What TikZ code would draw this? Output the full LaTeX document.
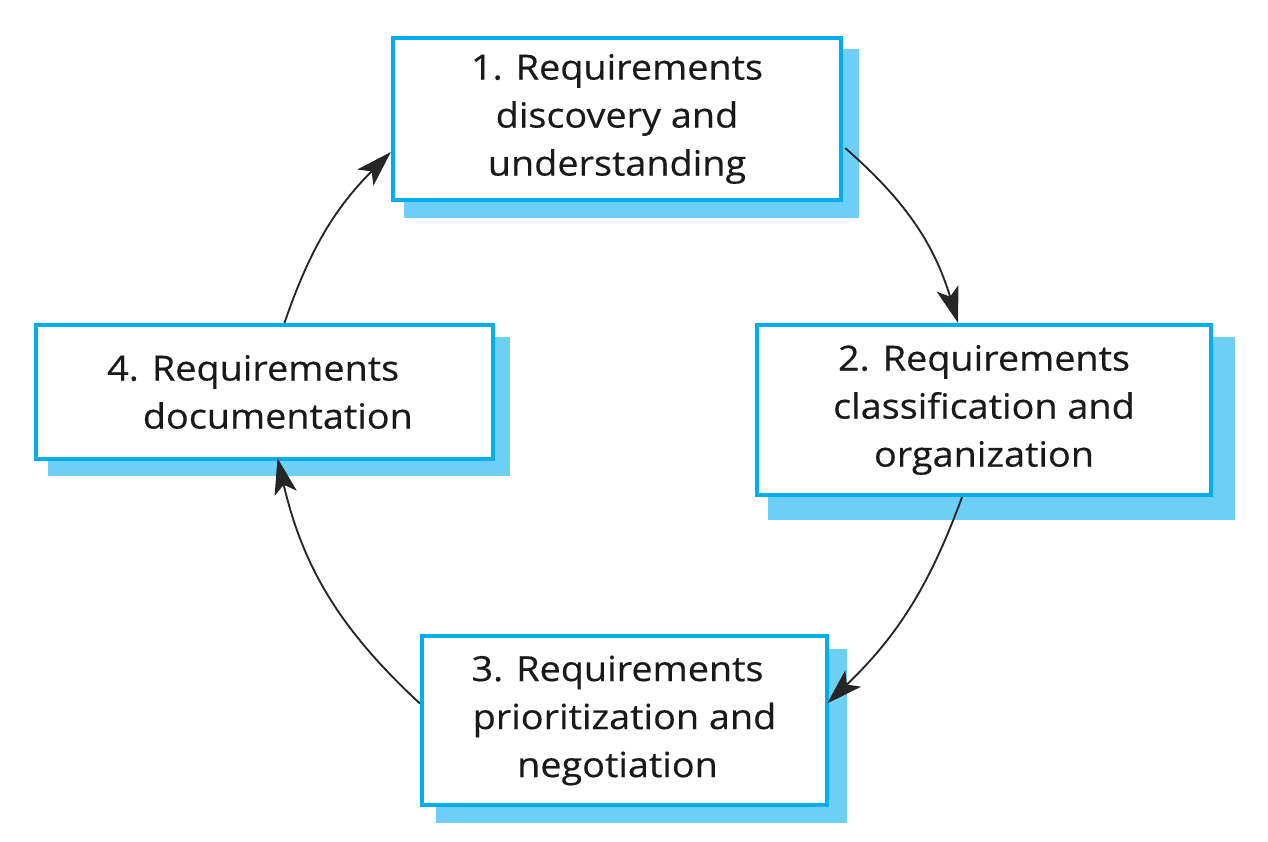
\documentclass[tikz,border=0pt]{standalone}
\usepackage{fontspec}
\setmainfont{Open Sans}[FakeStretch=1.09, FakeBold=0.4]
\usetikzlibrary{arrows.meta,calc,backgrounds}
\definecolor{boxblue}{RGB}{0,174,239}
\definecolor{shadowblue}{RGB}{110,207,246}
\tikzset{
  stage/.style={draw=boxblue, line width=3.2pt, fill=white, align=center,
    inner sep=0pt, font=\fontsize{26}{36}\selectfont, text=black!90},
  shade/.style={fill=shadowblue},
  flow/.style={line width=1.4pt, draw=black!85,
    -{Stealth[length=27pt, width=17pt, inset=6.5pt]}}
}
\begin{document}
\begin{tikzpicture}[x=0.75pt, y=0.75pt]
\useasboundingbox (0,0) rectangle (1268,-842);

\node[stage, minimum width=336pt, minimum height=121.5pt] (b1) at (617,-119)
  {1. Requirements\\discovery and\\understanding};
\node[stage, minimum width=340.5pt, minimum height=127.5pt] (b2) at (984,-410)
  {2. Requirements\\classification and\\organization};
\node[stage, minimum width=303.75pt, minimum height=126.75pt] (b3) at (624.5,-720.5)
  {3. Requirements\hspace*{10.5pt}\\prioritization and\hspace*{10.5pt}\\negotiation\hspace*{10.5pt}};
\node[stage, minimum width=342.75pt, minimum height=100.5pt] (b4) at (264.5,-392)
  {4. Requirements\hspace*{17pt}\\\hspace*{20pt}documentation};

% offset shadows behind the boxes
\begin{scope}[on background layer]
  \fill[shade] ($(b1.north west)+(13,-13)$) rectangle ($(b1.south east)+(16,-16)$);
  \fill[shade] ($(b2.north west)+(13,-14)$) rectangle ($(b2.south east)+(22,-23)$);
  \fill[shade] ($(b3.north west)+(16,-15)$) rectangle ($(b3.south east)+(18,-16)$);
  \fill[shade] ($(b4.north west)+(14,-14)$) rectangle ($(b4.south east)+(15,-15)$);
\end{scope}

% cycle connectors
\draw[flow] ($(b1.east)+(2,-29)$) to[bend left=16] ($(b2.north)+(-26,0)$);
\draw[flow] ($(b2.south)+(-22,0)$) to[bend left=13] ($(b3.east)+(-2,17)$);
\draw[flow] ($(b3.west)+(0,17)$) to[bend left=17] ($(b4.south)+(13,3)$);
\draw[flow] ($(b4.north)+(20,0)$) to[bend left=13] ($(b1.west)+(0,-33)$);
\end{tikzpicture}
\end{document}
